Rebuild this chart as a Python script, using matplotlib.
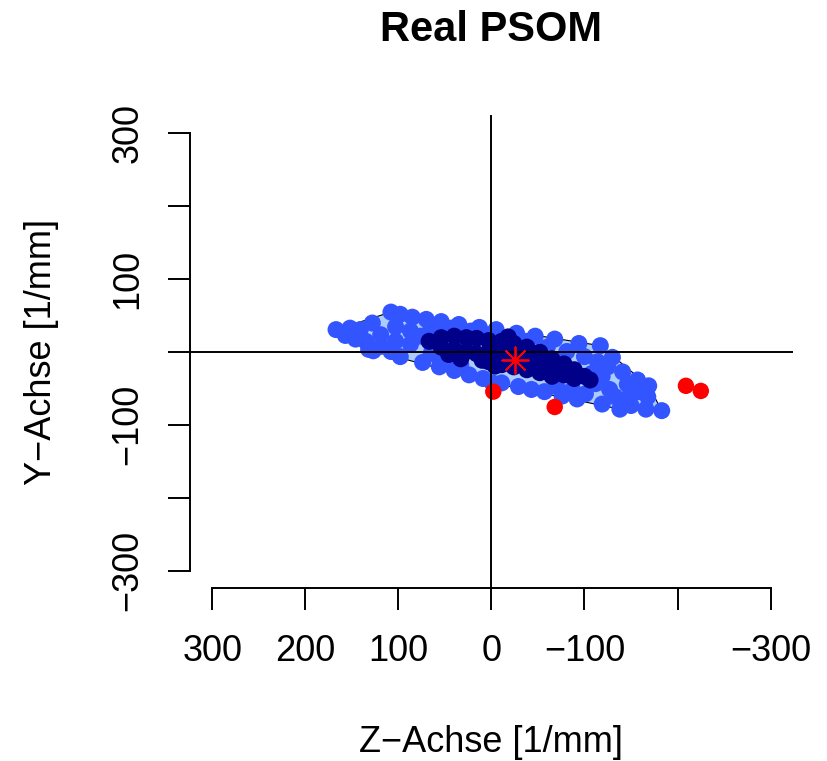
import matplotlib
matplotlib.use("Agg")
import matplotlib.pyplot as plt

# ===== data (Z, Y in 1/mm) =====
# loop hull vertices
hull_z = [167, 108, -117, -169, -183, -138, -1, 132]
hull_y = [30, 54, 8, -47, -81, -79, -43, 3]

# points inside the loop (blue)
loop_z = [167, 157, 152, 141, 146, 128, 135, 108, 98, 85, 70, 54, 35, 13, -5, -27,
          -47, -68, -94, -117, 119, 103, 87, 119, 103, 87, 76, 65, 43, 22, 2, -38,
          -60, -81, -100, -114, -130, -169, -157, -159, -183, -166, -150, -138, -119,
          -92, -76, -57, -43, -29, -11, -1, 9, 24, 40, 56, 74, 98, 127, 132, 108, 65,
          49, 33, -101, -127, -112, -133, -148, -119, -108, -87, -70, -141, -146, -125,
          -168]
loop_y = [30, 22, 32, 30, 17, 39, 14, 54, 51, 47, 44, 41, 37, 33, 30, 25,
          21, 17, 11, 8, 23, 34, 28, 7, 14, 10, 21, 34, 32, 28, 23, 14,
          6, 0, -7, -14, -8, -47, -39, -55, -81, -79, -74, -79, -72,
          -65, -61, -55, -52, -48, -43, -43, -37, -32, -26, -21, -15, -7, 1, 3, 0, -3,
          -11, -18, -58, -52, -44, -62, -62, -34, -30, -52, -48, -28, -45, -21,
          -62]

# points inside the bag (dark blue)
bag_z = [67, 54, 54, 40, 40, 27, 27, 16, 16, 3, 3, 3, -11, -11, -11, -24, -24, -24,
         -38, -38, -38, -52, -52, -52, -65, -65, -65, -78, -78, -89, -89, -100, -106,
         46, 33, 10, -4, -18]
bag_y = [14, 19, 6, 21, 3, 19, 0, 18, -3, 15, 0, -14, 14, -3, -18, 11, -6, -21,
         6, -10, -25, -1, -17, -29, -10, -25, -34, -17, -32, -25, -37, -34, -39,
         -4, -10, -12, -20, 20]

# outliers (red)
out_z = [-2, -68, -209, -225]
out_y = [-55, -76, -47, -54]

# median
med_z = [-25]
med_y = [-11]

# ===== style =====
plt.rcParams.update({
    "font.family": ["Liberation Sans", "DejaVu Sans"],
    "font.size": 26,
})

fig = plt.figure(figsize=(8.27, 7.61), dpi=100)
ax = fig.add_axes([0.2297, 0.2273, 0.7291, 0.6216])

ax.fill(hull_z, hull_y, facecolor="#AACCFF", edgecolor="black", linewidth=0.8, zorder=1)
ax.scatter(loop_z, loop_y, s=150, color="#3355FF", edgecolors="none", zorder=2)
ax.scatter(bag_z, bag_y, s=150, color="#000088", edgecolors="none", zorder=3)
ax.scatter(out_z, out_y, s=140, color="#FF0000", edgecolors="none", zorder=3)

ax.axhline(0, color="black", linewidth=1.4, zorder=4)
ax.axvline(0, color="black", linewidth=1.4, zorder=4)

ax.scatter(med_z, med_y, s=360, marker=(8, 2, 0), color="#FF0000", linewidths=1.3, zorder=5)

ax.set_xlim(324, -324)
ax.set_ylim(-324, 324)

ticks = [300, 200, 100, 0, -100, -200, -300]
xlabels = ["300", "200", "100", "0", "\u2212100", "", "\u2212300"]
ylabels = ["300", "", "100", "", "\u2212100", "", "\u2212300"]
ax.set_xticks(ticks)
ax.set_xticklabels(xlabels)
ax.set_yticks(ticks)
ax.set_yticklabels(ylabels, rotation=90, va="center")

for side in ["top", "right"]:
    ax.spines[side].set_visible(False)
for side in ["left", "bottom"]:
    ax.spines[side].set_linewidth(1.4)
    ax.spines[side].set_bounds(-300, 300)

ax.tick_params(axis="both", length=16, width=1.4)
ax.tick_params(axis="x", pad=17)
ax.tick_params(axis="y", pad=16)

ax.set_xlabel("Z\u2212Achse [1/mm]", fontsize=26)
ax.xaxis.set_label_coords(0.5, -0.3256)
ax.xaxis.label.set_va("center")
ax.set_ylabel("Y\u2212Achse [1/mm]", fontsize=26)
ax.yaxis.set_label_coords(-0.2454, 0.5)
ax.yaxis.label.set_va("center")

ax.set_title("Real PSOM", fontsize=30, fontweight="bold", y=1.18, va="center", pad=0)

fig.savefig("out.png", dpi=100)
